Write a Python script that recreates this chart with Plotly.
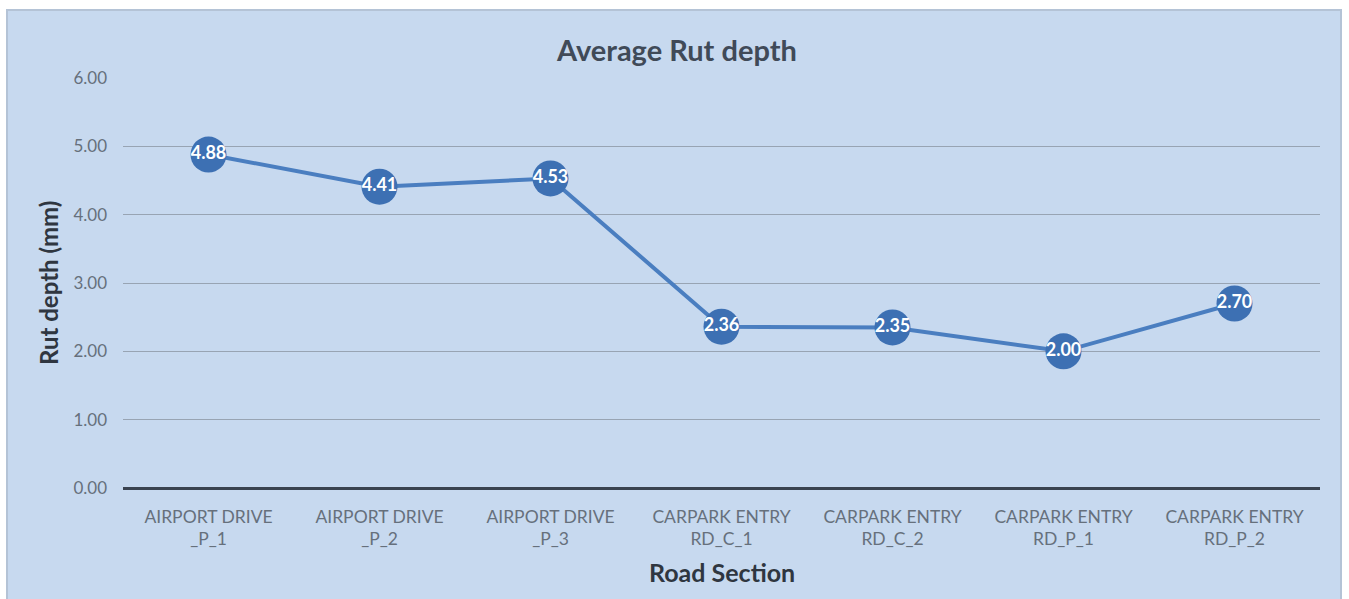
import plotly.graph_objects as go

# Road sections and their average rut depth (mm)
sections = [
    "AIRPORT DRIVE<br>_P_1",
    "AIRPORT DRIVE<br>_P_2",
    "AIRPORT DRIVE<br>_P_3",
    "CARPARK ENTRY<br>RD_C_1",
    "CARPARK ENTRY<br>RD_C_2",
    "CARPARK ENTRY<br>RD_P_1",
    "CARPARK ENTRY<br>RD_P_2",
]
rut_depth = [4.88, 4.41, 4.53, 2.36, 2.35, 2.00, 2.70]
y_ticks = [0, 1, 2, 3, 4, 5, 6]

W, H = 1349, 599
ML, MR, MT, MB = 123, 29, 78, 111
PW, PH = W - ML - MR, H - MT - MB

FONT = "Lato"
BG = "#c7d9ef"


def px_x(x):
    return (x - ML) / PW


def px_y(y):
    return (H - MB - y) / PH


fig = go.Figure()
fig.add_trace(go.Scatter(
    x=sections,
    y=rut_depth,
    mode="lines+markers+text",
    line=dict(color="#4a7ec0", width=4),
    marker=dict(size=36, color="#3d70b3", line=dict(width=0)),
    text=[f"{v:.2f}" for v in rut_depth],
    textposition="middle center",
    textfont=dict(family=FONT, size=18, color="white", weight="bold"),
    cliponaxis=False,
    showlegend=False,
))

# light-blue chart panel with a soft border
fig.add_shape(
    type="rect", xref="paper", yref="paper", layer="below",
    x0=px_x(7), x1=px_x(1341), y0=px_y(600), y1=px_y(10),
    fillcolor=BG, line=dict(color="#b4c3d6", width=2),
)

labels = [
    dict(text="<b>Average Rut depth</b>", x=676, y=50, angle=0, size=29, color="#404a58"),
    dict(text="<b>Rut depth (mm)</b>", x=48, y=283, angle=-90, size=24, color="#2f3640"),
    dict(text="<b>Road Section</b>", x=722, y=572, angle=0, size=25, color="#2f3640"),
]
for lab in labels:
    fig.add_annotation(
        text=lab["text"], xref="paper", yref="paper",
        x=px_x(lab["x"]), y=px_y(lab["y"]),
        xanchor="center", yanchor="middle",
        showarrow=False, textangle=lab["angle"],
        font=dict(family=FONT, size=lab["size"], color=lab["color"]),
    )

fig.update_layout(
    width=W, height=H,
    margin=dict(l=ML, r=MR, t=MT, b=MB, autoexpand=False),
    paper_bgcolor="white",
    plot_bgcolor="rgba(0,0,0,0)",
    xaxis=dict(
        type="category",
        range=[-0.5, len(sections) - 0.5],
        showgrid=False, zeroline=False, showline=False,
        ticks="", ticklabelstandoff=16,
        tickfont=dict(family=FONT, size=17.5, color="#66707c"),
    ),
    yaxis=dict(
        range=[0, 6],
        tickvals=y_ticks,
        ticktext=[f"{v:.2f}" for v in y_ticks],
        showgrid=True, gridcolor="#98a4b3", gridwidth=1.2,
        zeroline=True, zerolinecolor="#3a4350", zerolinewidth=3,
        showline=False, ticks="", ticklabelstandoff=15,
        tickfont=dict(family=FONT, size=17, color="#66707c"),
    ),
)

fig.write_html("out.html")
